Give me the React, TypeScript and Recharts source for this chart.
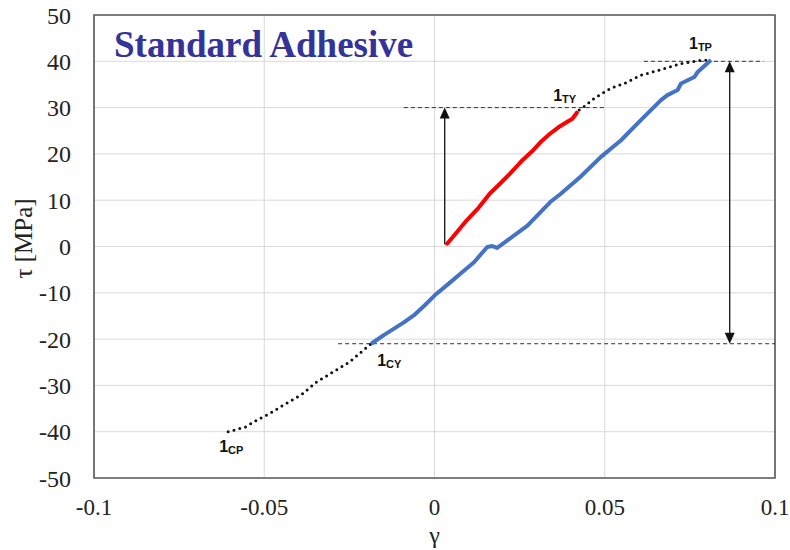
import React from "react";
import {
  ComposedChart,
  Line,
  XAxis,
  YAxis,
  CartesianGrid,
  ReferenceLine,
  ReferenceDot,
  ReferenceArea,
} from "recharts";

// loading branch (blue), from 1CY up to 1TP
const blueGamma = [
  -0.0186, -0.015, -0.012, -0.009, -0.0061, -0.003, 0, 0.0047, 0.0076, 0.0116,
  0.0155, 0.017, 0.0184, 0.0214, 0.0273, 0.034, 0.0371, 0.0428, 0.0488, 0.0547,
  0.0606, 0.0665, 0.0684, 0.0714, 0.0724, 0.0763, 0.0773, 0.0812,
];
const blueTau = [
  -21, -19.2, -17.8, -16.4, -14.9, -12.8, -10.6, -7.7, -5.9, -3.4, -0.1, 0.1,
  -0.3, 1.3, 4.5, 9.6, 11.4, 15, 19.3, 22.9, 27.3, 31.6, 32.7, 33.8, 35.2, 36.6,
  37.7, 40.3,
];

// first loading (red), from 0 to 1TY
const redGamma = [
  0.0037, 0.006, 0.0094, 0.013, 0.0162, 0.019, 0.0221, 0.0255, 0.029, 0.0315,
  0.034, 0.0365, 0.0389, 0.0405, 0.0418,
];
const redTau = [
  0.6, 2.6, 5.6, 8.4, 11.4, 13.4, 15.7, 18.4, 20.8, 22.8, 24.4, 25.8, 26.9,
  27.6, 28.9,
];

// dotted: 1TY -> 1TP
const upperGamma = [
  0.0425, 0.0439, 0.0469, 0.0518, 0.0557, 0.0606, 0.0665, 0.0724, 0.0782,
  0.0812,
];
const upperTau = [29.5, 30.2, 32, 34.2, 35.2, 37, 38.2, 39.5, 40.2, 40.3];

// dotted: 1CP -> 1CY
const lowerGamma = [
  -0.0606, -0.0556, -0.0517, -0.0487, -0.0438, -0.0389, -0.0349, -0.03,
  -0.0251, -0.0186,
];
const lowerTau = [-40, -39, -37.3, -36.2, -34, -31.9, -29.4, -27.2, -25, -21];

const xTicks = [-0.1, -0.05, 0, 0.05, 0.1];
const yTicks = [-50, -40, -30, -20, -10, 0, 10, 20, 30, 40, 50];

// dashed guide levels [tau, gammaFrom, gammaTo]
const guides = [
  [30, -0.009, 0.05],
  [40, 0.0615, 0.0966],
  [-21, -0.0283, 0.1],
];

// point labels [name, sub, gamma, tau, dx, dy]
const pointLabels: [string, string, number, number, number, number][] = [
  ["1", "TY", 0.0425, 29.5, -26, -9],
  ["1", "TP", 0.0812, 40.3, -22, -11],
  ["1", "CY", -0.0186, -21, 6, 22],
  ["1", "CP", -0.0606, -40, -9, 20],
];

const zip = (xs: number[], ys: number[]) => xs.map((x, i) => ({ x, y: ys[i] }));

const blueData = zip(blueGamma, blueTau);
const redData = zip(redGamma, redTau);
const upperData = zip(upperGamma, upperTau);
const lowerData = zip(lowerGamma, lowerTau);

const serif = "'Liberation Serif', 'Times New Roman', serif";

function arrowHead(x: number, y: number, dx: number, dy: number) {
  const len = Math.sqrt(dx * dx + dy * dy) || 1;
  const ux = dx / len;
  const uy = dy / len;
  const L = 11;
  const W = 5;
  const bx = x - ux * L;
  const by = y - uy * L;
  const pts = `${x},${y} ${bx - uy * W},${by + ux * W} ${bx + uy * W},${by - ux * W}`;
  return <polygon points={pts} fill="#111" />;
}

const makeArrow = (both: boolean) => (props: any) => {
  const { x1, y1, x2, y2 } = props;
  const dx = x2 - x1;
  const dy = y2 - y1;
  const len = Math.sqrt(dx * dx + dy * dy) || 1;
  const sx = both ? x1 + (dx / len) * 9 : x1;
  const sy = both ? y1 + (dy / len) * 9 : y1;
  const ex = x2 - (dx / len) * 9;
  const ey = y2 - (dy / len) * 9;
  return (
    <g>
      <line x1={sx} y1={sy} x2={ex} y2={ey} stroke="#111" strokeWidth={1.3} />
      {arrowHead(x2, y2, dx, dy)}
      {both && arrowHead(x1, y1, -dx, -dy)}
    </g>
  );
};

const makeLabel = (main: string, sub: string, dx: number, dy: number) => (props: any) => (
  <text
    x={props.cx + dx}
    y={props.cy + dy}
    fontFamily="'Liberation Sans', Arial, sans-serif"
    fontWeight="bold"
    fill="#111"
  >
    <tspan fontSize={16}>{main}</tspan>
    <tspan fontSize={11} dy={2}>
      {sub}
    </tspan>
  </text>
);

export default function App() {
  return (
    <div style={{ position: "absolute", left: 0, top: 0, width: 790, height: 550, background: "#fff" }}>
      <ComposedChart
        width={790}
        height={550}
        margin={{ top: 15, right: 15, left: 0, bottom: 0 }}
      >
        <CartesianGrid stroke="#d9d9d9" strokeWidth={1} />
        <XAxis
          type="number"
          dataKey="x"
          domain={[-0.1, 0.1]}
          ticks={xTicks}
          allowDataOverflow
          axisLine={false}
          tickLine={false}
          tickSize={0}
          tickMargin={21}
          height={72}
          tick={{ fontFamily: serif, fontSize: 23, fill: "#222" }}
          label={{
            content: (p: any) => (
              <text
                x={p.viewBox.x + p.viewBox.width / 2}
                y={p.viewBox.y + 65}
                textAnchor="middle"
                fontFamily={serif}
                fontSize={24}
                fill="#222"
              >
                γ
              </text>
            ),
          }}
        />
        <YAxis
          type="number"
          dataKey="y"
          domain={[-50, 50]}
          ticks={yTicks}
          allowDataOverflow
          axisLine={false}
          tickLine={false}
          tickSize={0}
          tickMargin={23}
          width={94}
          tick={{ fontFamily: serif, fontSize: 24, fill: "#222" }}
          label={{
            content: (p: any) => {
              const cx = p.viewBox.x + 23;
              const cy = p.viewBox.y + p.viewBox.height / 2 - 8;
              return (
                <text
                  x={cx}
                  y={cy}
                  transform={`rotate(-90 ${cx} ${cy})`}
                  textAnchor="middle"
                  dominantBaseline="central"
                  fontFamily={serif}
                  fontSize={25}
                  fill="#222"
                >
                  τ [MPa]
                </text>
              );
            },
          }}
        />
        <ReferenceArea
          x1={-0.1}
          x2={0.1}
          y1={-50}
          y2={50}
          fill="none"
          fillOpacity={0}
          stroke="#595959"
          strokeWidth={1.6}
        />
        {guides.map(([t, g1, g2], i) => (
          <ReferenceLine
            key={`g${i}`}
            segment={[
              { x: g1, y: t },
              { x: g2, y: t },
            ]}
            stroke="#333"
            strokeWidth={1}
            strokeDasharray="4 3"
          />
        ))}
        <ReferenceLine
          segment={[
            { x: 0.003, y: 0.5 },
            { x: 0.003, y: 30 },
          ]}
          shape={makeArrow(false)}
        />
        <ReferenceLine
          segment={[
            { x: 0.0867, y: -21 },
            { x: 0.0867, y: 40 },
          ]}
          shape={makeArrow(true)}
        />
        <Line
          data={lowerData}
          dataKey="y"
          type="linear"
          stroke="#111"
          strokeWidth={3}
          strokeDasharray="0 6"
          strokeLinecap="round"
          dot={false}
          isAnimationActive={false}
        />
        <Line
          data={upperData}
          dataKey="y"
          type="linear"
          stroke="#111"
          strokeWidth={3}
          strokeDasharray="0 6"
          strokeLinecap="round"
          dot={false}
          isAnimationActive={false}
        />
        <Line
          data={blueData}
          dataKey="y"
          type="linear"
          stroke="#4472c4"
          strokeWidth={4}
          strokeLinejoin="round"
          dot={false}
          isAnimationActive={false}
        />
        <Line
          data={redData}
          dataKey="y"
          type="linear"
          stroke="#ff0000"
          strokeWidth={4}
          strokeLinejoin="round"
          strokeLinecap="round"
          dot={false}
          isAnimationActive={false}
        />
        {pointLabels.map(([m, s, g, t, dx, dy], i) => (
          <ReferenceDot
            key={`l${i}`}
            x={g}
            y={t}
            r={0}
            shape={makeLabel(m, s, dx, dy)}
          />
        ))}
      </ComposedChart>
      <svg
        width={790}
        height={550}
        style={{ position: "absolute", left: 0, top: 0, pointerEvents: "none" }}
      >
        <text x={114} y={57} fontFamily={serif} fontWeight="bold" fontSize={37} fill="#333399">
          Standard Adhesive
        </text>
      </svg>
    </div>
  );
}
